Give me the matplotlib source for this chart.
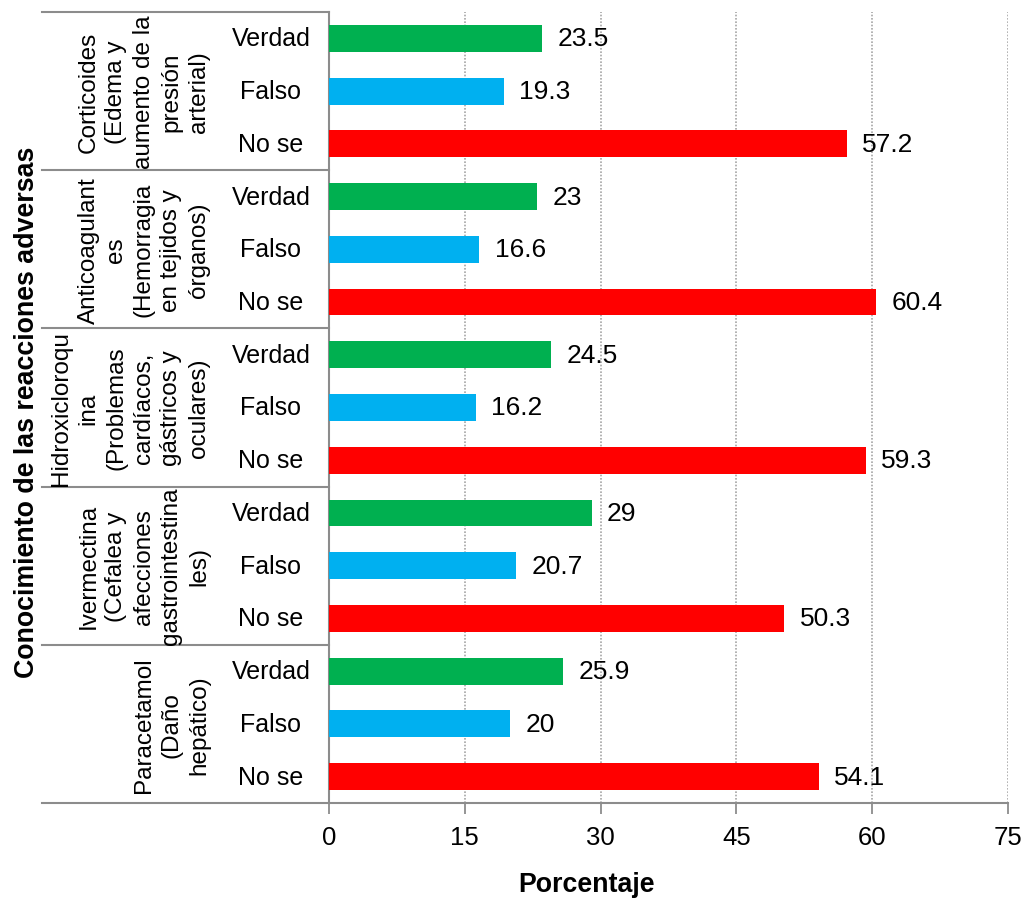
import matplotlib
matplotlib.use("Agg")
import matplotlib.pyplot as plt
from matplotlib.transforms import blended_transform_factory

plt.rcParams['font.family'] = ['Liberation Sans', 'DejaVu Sans']

# Drug groups (top to bottom) and response categories
groups = [
    "Corticoides\n(Edema y\naumento de la\npresión\narterial)",
    "Anticoagulant\nes\n(Hemorragia\nen tejidos y\nórganos)",
    "Hidroxicloroqu\nina\n(Problemas\ncardíacos,\ngástricos y\noculares)",
    "Ivermectina\n(Cefalea y\nafecciones\ngastrointestina\nles)",
    "Paracetamol\n(Daño\nhepático)",
]
answers = ["Verdad", "Falso", "No se"]

verdad = [23.5, 23, 24.5, 29, 25.9]
falso = [19.3, 16.6, 16.2, 20.7, 20]
no_se = [57.2, 60.4, 59.3, 50.3, 54.1]

colors = ["#00B050", "#00B0F0", "#FF0000"]
xticks = [0, 15, 30, 45, 60, 75]

W, H = 1025, 904
fig = plt.figure(figsize=(W / 100, H / 100), dpi=100)
left, right, top, bottom = 329, 1008, 13, 804
ax = fig.add_axes([left / W, (H - bottom) / H, (right - left) / W, (bottom - top) / H])

n_groups = len(groups)
n_rows = n_groups * len(answers)
ax.set_ylim(0, n_rows)
ax.set_xlim(0, 75)

series = [verdad, falso, no_se]
for g in range(n_groups):
    for k in range(len(answers)):
        y = n_rows - (g * 3 + k) - 0.5
        v = series[k][g]
        ax.barh(y, v, height=0.51, color=colors[k], zorder=3)
        ax.text(v + 1.7, y, f"{v:g}", va="center", ha="left", fontsize=19, zorder=4)

# grid and axes styling
grey = "#8C8C8C"
for x in xticks[1:]:
    ax.axvline(x, color="#A6A6A6", lw=1.2, ls=(0, (1, 1)), zorder=1)
for s in ["top", "right", "bottom"]:
    ax.spines[s].set_visible(False)
ax.spines["left"].set_color(grey)
ax.spines["left"].set_linewidth(1.5)
ax.set_yticks([])
ax.set_xticks(xticks)
ax.tick_params(axis="x", length=8, width=1.3, color=grey, pad=8, labelsize=18.5)

# category table on the left, in figure-x / data-y coordinates
tr = blended_transform_factory(fig.transFigure, ax.transData)
x0 = 42 / W
for b in range(0, n_rows + 1, 3):
    x_end = right / W if b == 0 else left / W
    ax.plot([x0, x_end], [b, b], color=grey, lw=1.5, transform=tr, clip_on=False, zorder=2)

for g in range(n_groups):
    yc = n_rows - g * 3 - 1.5
    ax.text(210 / W, yc, groups[g], transform=tr, rotation=90, ha="right", va="center",
            multialignment="center", fontsize=17.5, linespacing=1.33)
    for k in range(len(answers)):
        y = n_rows - (g * 3 + k) - 0.5
        ax.text(271 / W, y, answers[k], transform=tr, ha="center", va="center", fontsize=18)

fig.text(27 / W, 1 - 412 / H, "Conocimiento de las reacciones adversas", rotation=90,
         ha="center", va="center", fontsize=19.3, fontweight="bold")
fig.text(587 / W, 1 - 885 / H, "Porcentaje", ha="center", va="center",
         fontsize=19.3, fontweight="bold")

fig.savefig("out.png", dpi=100)
